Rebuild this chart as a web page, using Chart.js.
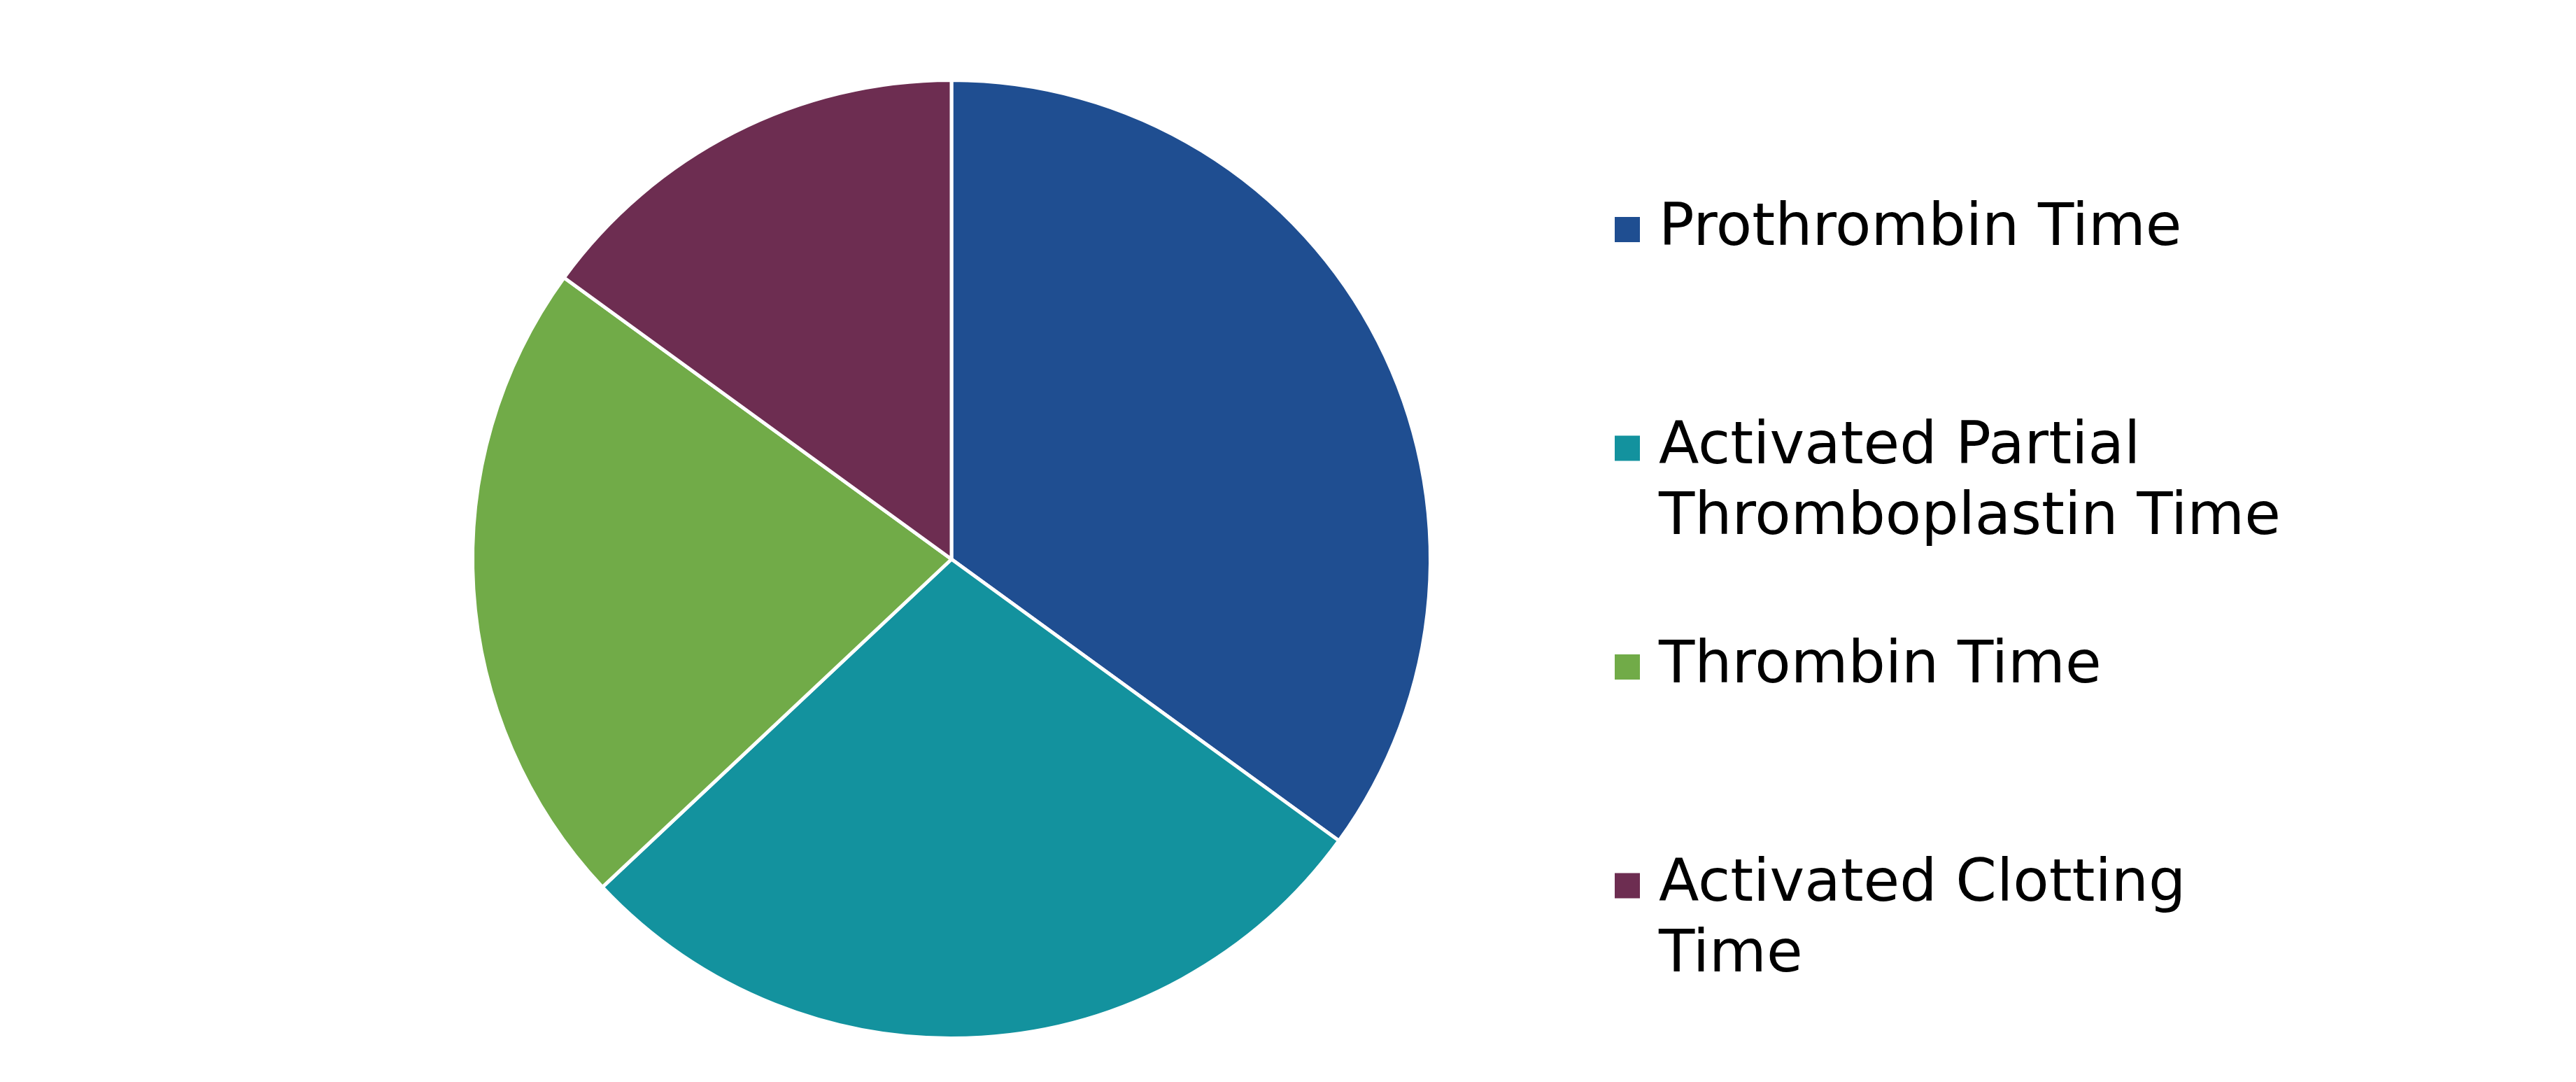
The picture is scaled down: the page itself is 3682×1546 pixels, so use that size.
<!DOCTYPE html>
<html>
<head>
<meta charset="utf-8">
<script src="https://cdn.jsdelivr.net/npm/chart.js@4.4.0/dist/chart.umd.min.js"></script>
<style>
  html, body { margin: 0; padding: 0; background: #ffffff; }
  #wrap { width: 3682px; height: 1546px; position: relative; }
</style>
</head>
<body>
<div id="wrap"><canvas id="coagChart"></canvas></div>
<script>
// data (share of tests, %)
const categories = [
    'Prothrombin Time',
    'Activated Partial\nThromboplastin Time',
    'Thrombin Time',
    'Activated Clotting\nTime'
];
const shares = [35, 28, 22, 15];
const sliceColors = ['#1f4e91', '#13929e', '#71ab48', '#6d2d51'];

// legend drawn by hand so multi-line labels sit like the original
const sideLegend = {
    id: 'sideLegend',
    afterDraw(chart, args, opts) {
        const ctx = chart.ctx;
        const meta = chart.getDatasetMeta(0);
        ctx.save();
        ctx.font = opts.fontSize + 'px "DejaVu Sans", Verdana, sans-serif';
        ctx.textBaseline = 'middle';
        ctx.textAlign = 'left';
        chart.data.labels.forEach((label, i) => {
            const y = opts.top + i * opts.step;
            const style = meta.controller.getStyle(i);
            ctx.fillStyle = style.backgroundColor;
            ctx.fillRect(opts.x, y - opts.box / 2, opts.box, opts.box);
            ctx.fillStyle = '#000000';
            label.split('\n').forEach((line, j) => {
                ctx.fillText(line, opts.x + opts.box + opts.gap, y + j * opts.lineHeight);
            });
        });
        ctx.restore();
    }
};

const ctx = document.getElementById('coagChart').getContext('2d');
new Chart(ctx, {
    type: 'pie',
    data: {
        labels: categories,
        datasets: [{
            data: shares,
            backgroundColor: sliceColors,
            borderColor: '#ffffff',
            borderWidth: 5
        }]
    },
    options: {
        responsive: true,
        maintainAspectRatio: false,
        devicePixelRatio: 1,
        animation: false,
        layout: {
            padding: { left: 672, right: 1634, top: 112, bottom: 60 }
        },
        plugins: {
            legend: { display: false },
            tooltip: { enabled: false },
            sideLegend: {
                x: 2308,
                top: 328,
                step: 312.5,
                lineHeight: 101,
                box: 36,
                gap: 27,
                fontSize: 84
            }
        }
    },
    plugins: [sideLegend]
});
</script>
</body>
</html>
